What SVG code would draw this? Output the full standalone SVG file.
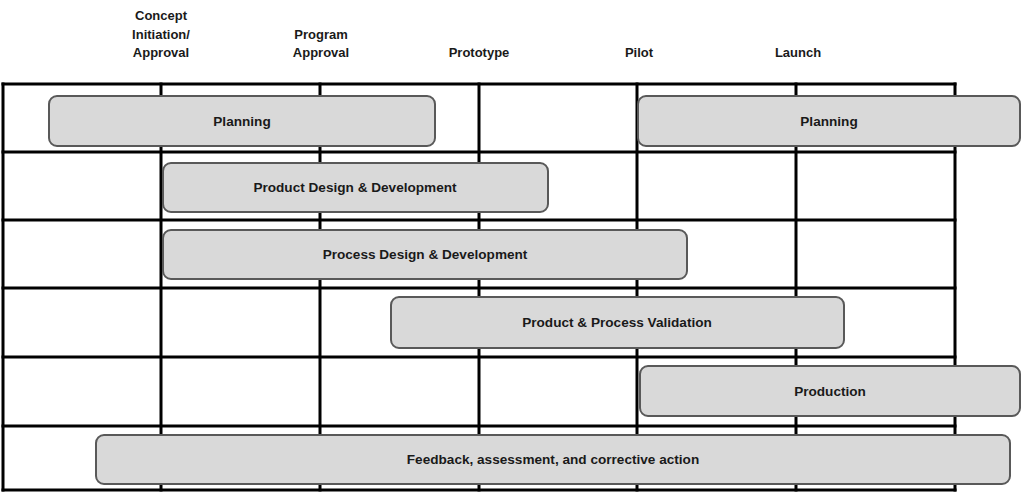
<svg xmlns="http://www.w3.org/2000/svg" width="1024" height="496" viewBox="0 0 1024 496">
<style>
.grid line{stroke:#000;stroke-width:3;stroke-linecap:square}
.bar rect{fill:#d9d9d9;stroke:#595959;stroke-width:2}
text{font-family:"Liberation Sans",Arial,sans-serif;font-weight:bold;font-size:13px;fill:#1a1a1a;text-anchor:middle}
.bar text{dominant-baseline:central;font-size:13.6px}
</style>
<rect width="1024" height="496" fill="#fff"/>
<g id="headers">
<text x="161" y="20">Concept</text>
<text x="161" y="39">Initiation/</text>
<text x="161" y="57">Approval</text>
<text x="321" y="39">Program</text>
<text x="321" y="57">Approval</text>
<text x="479" y="57">Prototype</text>
<text x="639" y="57">Pilot</text>
<text x="798" y="57">Launch</text>
</g>
<g id="grid" class="grid">
<line x1="3" y1="84" x2="955" y2="84"/>
<line x1="3" y1="152" x2="955" y2="152"/>
<line x1="3" y1="220" x2="955" y2="220"/>
<line x1="3" y1="288" x2="955" y2="288"/>
<line x1="3" y1="357" x2="955" y2="357"/>
<line x1="3" y1="426" x2="955" y2="426"/>
<line x1="3" y1="490" x2="955" y2="490"/>
<line x1="3" y1="84" x2="3" y2="490"/>
<line x1="161" y1="84" x2="161" y2="490"/>
<line x1="320" y1="84" x2="320" y2="490"/>
<line x1="479" y1="84" x2="479" y2="490"/>
<line x1="637" y1="84" x2="637" y2="490"/>
<line x1="796" y1="84" x2="796" y2="490"/>
<line x1="955" y1="84" x2="955" y2="490"/>
</g>
<g id="planning1" class="bar"><rect x="49" y="96" width="386" height="50" rx="8"/><text x="242" y="121">Planning</text></g>
<g id="planning2" class="bar"><rect x="638" y="96" width="382" height="50" rx="8"/><text x="829" y="121">Planning</text></g>
<g id="product-design" class="bar"><rect x="163" y="163" width="385" height="49" rx="8"/><text x="355" y="187.5">Product Design &amp; Development</text></g>
<g id="process-design" class="bar"><rect x="163" y="230" width="524" height="49" rx="8"/><text x="425" y="254.5">Process Design &amp; Development</text></g>
<g id="validation" class="bar"><rect x="391" y="297" width="453" height="51" rx="8"/><text x="617" y="322.5">Product &amp; Process Validation</text></g>
<g id="production" class="bar"><rect x="640" y="366" width="380" height="50" rx="8"/><text x="830" y="391">Production</text></g>
<g id="feedback" class="bar"><rect x="96" y="435" width="914" height="49" rx="8"/><text x="553" y="459.5">Feedback, assessment, and corrective action</text></g>
</svg>
